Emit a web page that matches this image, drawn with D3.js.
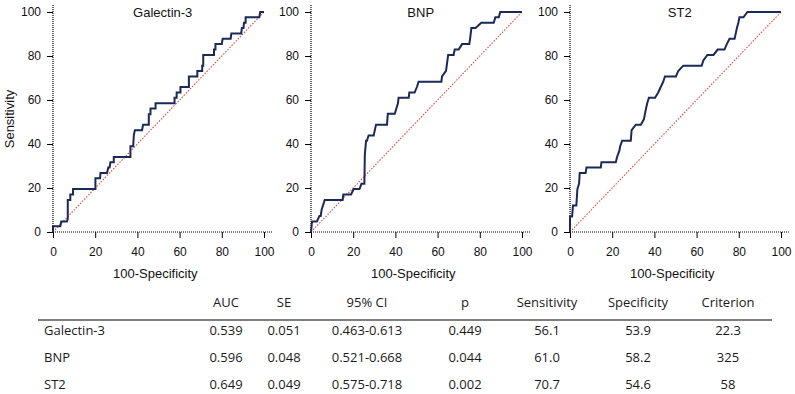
<!DOCTYPE html>
<html>
<head>
<meta charset="utf-8">
<script src="https://cdn.jsdelivr.net/npm/d3@7"></script>
<style>
  body { margin: 0; background: #fff; }
  svg { display: block; }
</style>
</head>
<body>
<div id="chart"></div>
<script>
// ROC curves, [100-specificity, sensitivity]
let galectinRoc = [[0,0],[0,2.6],[3.5,2.6],[3.9,4.8],[6.6,4.8],[7,6],[7,14.6],[8.2,14.6],[8.2,17.1],[9.5,17.1],[9.5,19.5],
  [20.1,19.5],[20.1,24.4],[22.3,24.4],[22.5,26.8],[25.6,26.8],[26.2,29.3],[26.8,29.3],[27.2,31.7],[28.8,31.7],[28.8,34.1],
  [36.7,34.1],[36.7,39],[38,39],[38.3,43.9],[38.8,46.3],[42.2,46.3],[42.7,48.8],[45.4,48.8],[45.4,53.5],[46.2,53.5],[46.2,56.1],
  [48.6,56.1],[48.6,58.5],[57.6,58.5],[57.6,61],[58.6,61],[58.6,63.4],[60.4,63.4],[60.4,65.9],[64.4,65.9],[64.4,70.7],
  [68.4,70.7],[68.4,73.2],[70.7,73.2],[70.7,75.6],[71.2,75.6],[71.2,80.5],[76.3,80.5],[76.3,82.9],[77,82.9],[77,85.4],
  [80,85.4],[80.4,87.8],[84.2,87.8],[84.5,90.2],[89.2,90.2],[89.5,92.7],[90.3,92.7],[90.5,95.1],[91.3,95.1],[91.3,97.6],
  [97.8,97.6],[98.2,100],[100,100]];

let bnpRoc = [[0,0],[0.5,4.8],[2.8,4.8],[4,7.3],[4.6,7.3],[5,10],[6.5,14.6],[15,14.6],[15.3,17.1],[19,17.1],[20.2,19.5],
  [23,19.5],[23.9,21.9],[25.3,21.9],[25.5,35],[26.1,41.5],[26.5,41.5],[27.3,43.9],[29.7,43.9],[30.8,48.8],[36,48.8],
  [36.4,53.7],[39.7,53.7],[41.2,58.5],[41.5,61],[46.3,61],[46.6,63.4],[49.1,63.4],[50.2,65.9],[51,68.3],[61.8,68.3],
  [62.1,70.7],[64,73.2],[65,80.5],[67.6,80.5],[68.1,82.9],[70,82.9],[71.6,85.4],[75,85.4],[75.4,87.8],[76,92.7],
  [78,92.7],[80.7,95.1],[86.6,95.1],[87.4,97.6],[89,97.6],[89.7,100],[100,100]];

let st2Roc = [[0,0],[0,7.1],[1,7.1],[1.4,12],[3,12],[3.5,19.5],[4.3,22],[4.6,26.8],[7.4,26.8],[7.8,29.3],[14.6,29.3],
  [14.9,31.7],[21.7,31.7],[22.3,34.1],[23.3,36.6],[23.8,39],[24.7,41.5],[28.8,41.5],[29.2,46.3],[31.2,48.8],[33.6,48.8],
  [35,51.2],[36,56],[36.6,58.5],[37.4,61],[40.3,61],[41.8,63.4],[43,65.9],[44.2,68.3],[45,70.7],[50.2,70.7],[51.3,73.2],
  [53.7,75.6],[62.4,75.6],[63.2,78],[65.1,80.5],[68,80.5],[70,82.9],[73.2,82.9],[74.3,85.4],[75.6,87.8],[78,87.8],
  [79.1,92.7],[79.8,95.1],[80.3,97.6],[82.2,97.6],[84.1,100],[100,100]];

let panelTitles = ["Galectin-3", "BNP", "ST2"];
let axisTicks = [0, 20, 40, 60, 80, 100];

// table
let tableHeaders = ["AUC", "SE", "95% CI", "p", "Sensitivity", "Specificity", "Criterion"];
let tableNames = ["Galectin-3", "BNP", "ST2"];
let aucValues = ["0.539", "0.596", "0.649"];
let seValues = ["0.051", "0.048", "0.049"];
let ciValues = ["0.463-0.613", "0.521-0.668", "0.575-0.718"];
let pValues = ["0.449", "0.044", "0.002"];
let sensValues = ["56.1", "61.0", "70.7"];
let specValues = ["53.9", "58.2", "54.6"];
let critValues = ["22.3", "325", "58"];

let w = 795;
let h = 394;
let arial = "'Liberation Sans', Arial, sans-serif";

let svg = d3.select("#chart")
  .append("svg")
    .attr("width", w)
    .attr("height", h)
    .style("font-family", arial);

let curves = [galectinRoc, bnpRoc, st2Roc];
let lefts = [53, 311, 570];
let plotW = 211;

let y = d3.scaleLinear().domain([0, 100]).range([232, 12]);

for (let i = 0; i < 3; i++) {
  let x = d3.scaleLinear().domain([0, 100]).range([lefts[i], lefts[i] + plotW]);
  let g = svg.append("g");

  // x axis
  let xa = g.append("g")
    .attr("transform", "translate(0," + y(0) + ")")
    .call(d3.axisBottom(x).tickValues(axisTicks).tickSize(6).tickPadding(9));
  xa.select(".domain").remove();
  xa.selectAll("text").style("font-size", "12px").style("font-family", arial).attr("fill", "#111");

  // y axis
  let ya = g.append("g")
    .attr("transform", "translate(" + x(0) + ",0)")
    .call(d3.axisLeft(y).tickValues(axisTicks).tickSize(6).tickPadding(6));
  ya.select(".domain").remove();
  ya.selectAll("text").style("font-size", "12px").style("font-family", arial).attr("fill", "#111");

  // dotted axis lines
  g.append("line")
    .attr("x1", x(0)).attr("x2", x(104))
    .attr("y1", y(0)).attr("y2", y(0))
    .attr("stroke", "#000").attr("stroke-width", 1.2)
    .attr("stroke-dasharray", "1,1");
  g.append("line")
    .attr("x1", x(0)).attr("x2", x(0))
    .attr("y1", y(0)).attr("y2", y(103.5))
    .attr("stroke", "#000").attr("stroke-width", 1.2)
    .attr("stroke-dasharray", "1,1");

  // diagonal
  g.append("line")
    .attr("x1", x(0)).attr("y1", y(0))
    .attr("x2", x(100)).attr("y2", y(100))
    .attr("stroke", "#d8473f").attr("stroke-width", 1.1)
    .attr("stroke-dasharray", "1.5,1.5");

  // curve
  let line = d3.line()
    .x(function(d){ return x(d[0]); })
    .y(function(d){ return y(d[1]); });
  g.append("path")
    .datum(curves[i])
    .attr("d", line)
    .attr("fill", "none")
    .attr("stroke", "#1b2958")
    .attr("stroke-width", 2)
    .attr("stroke-linejoin", "miter");

  // title
  g.append("text")
    .attr("x", x(52))
    .attr("y", 17)
    .attr("text-anchor", "middle")
    .style("font-size", "13px")
    .attr("fill", "#111")
    .text(panelTitles[i]);

  // x label
  g.append("text")
    .attr("x", x(48.5))
    .attr("y", 278)
    .attr("text-anchor", "middle")
    .style("font-size", "13px")
    .attr("fill", "#111")
    .text("100-Specificity");
}

// y label
svg.append("text")
  .attr("transform", "translate(14,119) rotate(-90)")
  .attr("text-anchor", "middle")
  .style("font-size", "13px")
  .attr("fill", "#111")
  .text("Sensitivity");

// table
let colX = [226, 284, 367, 465, 547, 638, 728];
let cols = [aucValues, seValues, ciValues, pValues, sensValues, specValues, critValues];
let rowY = [330, 357, 384];

let tbl = svg.append("g")
  .style("font-family", "'Open Sans', 'Noto Sans', sans-serif")
  .style("font-size", "13px")
  .attr("fill", "#1a1a1a");

tbl.selectAll(".hdr")
  .data(tableHeaders)
  .enter()
  .append("text")
    .attr("class", "hdr")
    .attr("x", function(d, i){ return colX[i]; })
    .attr("y", 302)
    .attr("dy", "0.35em")
    .attr("text-anchor", "middle")
    .text(function(d){ return d; });

tbl.append("line")
  .attr("x1", 38).attr("x2", 772)
  .attr("y1", 320).attr("y2", 320)
  .attr("stroke", "#555").attr("stroke-width", 1.5);

tbl.selectAll(".name")
  .data(tableNames)
  .enter()
  .append("text")
    .attr("class", "name")
    .attr("x", 44)
    .attr("y", function(d, i){ return rowY[i]; })
    .attr("dy", "0.35em")
    .text(function(d){ return d; });

for (let c = 0; c < cols.length; c++) {
  tbl.selectAll(".c" + c)
    .data(cols[c])
    .enter()
    .append("text")
      .attr("class", "c" + c)
      .attr("x", colX[c])
      .attr("y", function(d, i){ return rowY[i]; })
      .attr("dy", "0.35em")
      .attr("text-anchor", "middle")
      .text(function(d){ return d; });
}
</script>
</body>
</html>
